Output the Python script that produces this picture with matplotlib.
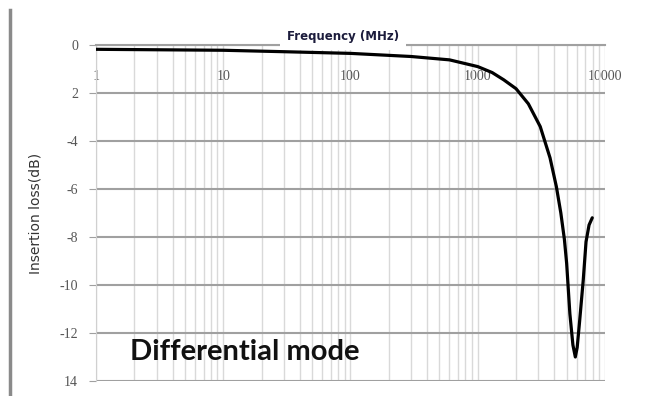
import matplotlib
matplotlib.use('Agg')
import matplotlib.pyplot as plt
from matplotlib.lines import Line2D
from matplotlib.ticker import LogLocator, NullFormatter, FixedLocator

# values
freq_mhz = [1, 10, 30, 100, 300, 600, 1000, 1300, 1600, 2000, 2500, 3100, 3700,
            4150, 4500, 4800, 5000, 5300, 5600, 5850, 6050, 6300, 6750, 7100, 7500, 7950]
loss_db = [-0.18, -0.22, -0.28, -0.35, -0.48, -0.62, -0.9, -1.15, -1.45, -1.82, -2.45, -3.4, -4.7,
           -5.9, -7.0, -8.1, -9.1, -11.2, -12.5, -13.0, -12.6, -11.6, -9.8, -8.2, -7.5, -7.2]

y_ticks = [0, -2, -4, -6, -8, -10, -12, -14]
y_labels = ['0', '2', '-4', '-6', '-8', '-10', '-12', '14']
x_ticks = [1, 10, 100, 1000, 10000]
x_labels = ['1', '10', '100', '1000', '10000']

fig = plt.figure(figsize=(6.5, 3.96), dpi=100)
ax = fig.add_axes([0.1477, 0.0379, 0.783, 0.8485])

ax.plot(freq_mhz, loss_db, color='black', lw=2.3, zorder=4,
        solid_capstyle='round', solid_joinstyle='round')

ax.set_xscale('log')
ax.set_xlim(1, 10000)
ax.set_ylim(-14, 0)

# light vertical grid on every log step, darker horizontal grid
ax.xaxis.set_major_locator(FixedLocator(x_ticks))
ax.xaxis.set_minor_locator(LogLocator(base=10, subs=range(2, 10)))
ax.xaxis.set_minor_formatter(NullFormatter())
ax.grid(True, which='both', axis='x', color='#d9d9d9', lw=1)
ax.grid(True, which='major', axis='y', color='#a0a0a0', lw=1.5)

# Excel style: x axis crosses at y=0, labels sit just under it
ax.spines['bottom'].set_position(('data', 0))
ax.spines['bottom'].set_color('#a0a0a0')
ax.spines['bottom'].set_linewidth(1.5)
ax.spines['top'].set_visible(False)
ax.spines['right'].set_visible(False)
ax.spines['left'].set_color('#d0d0d0')
ax.set_xticks(x_ticks)
ax.set_xticklabels(x_labels, fontsize=10, color='#555555', family='Liberation Serif')
ax.tick_params(axis='x', which='both', length=0, pad=18)

ax.set_yticks(y_ticks)
ax.set_yticklabels(y_labels, fontsize=10, color='#555555', family='Liberation Serif')
ax.tick_params(axis='y', length=5, color='#a0a0a0', pad=8)

ax.set_ylabel('Insertion loss(dB)', fontsize=10, color='#333333', labelpad=12)

ax.text(0.485, 1.025, 'Frequency (MHz)', transform=ax.transAxes, ha='center', va='center',
        fontsize=8.5, fontweight='bold', color='#1c1c3c',
        bbox=dict(boxstyle='square,pad=0.6', fc='white', ec='none'))

ax.text(0.066, 0.085, 'Differential mode', transform=ax.transAxes, ha='left', va='center',
        fontsize=21, family='Lato', fontweight='bold', color='#111111')

# scan border on the left
fig.add_artist(Line2D([0.016, 0.016], [0.0, 0.975], color='#8a8a8a', lw=2.5))

fig.savefig('out.png', dpi=100)
